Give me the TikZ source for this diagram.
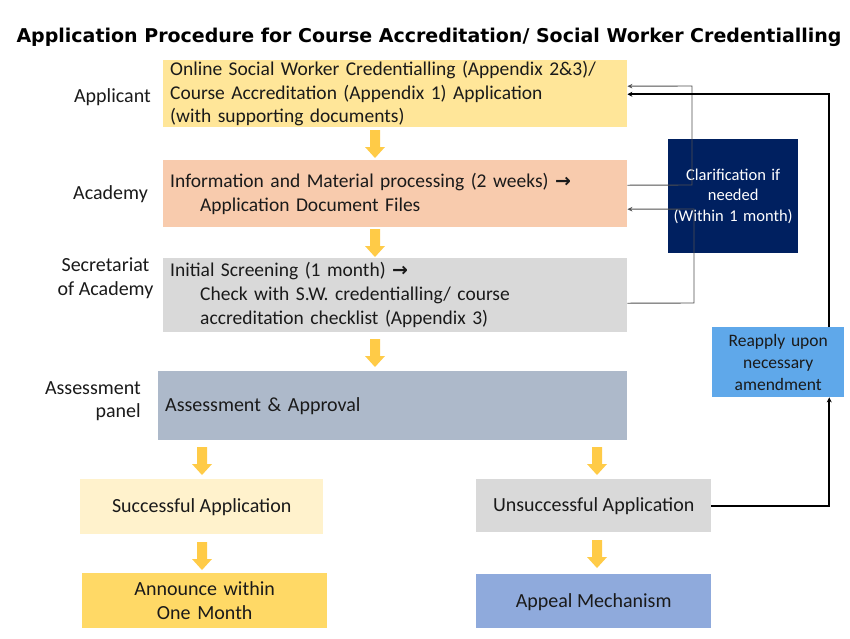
\documentclass[tikz,border=0pt]{standalone}
\usepackage{fontspec}
\setmainfont{Carlito}
\newfontfamily\titlefont{DejaVu Sans}
\newfontfamily\symfont{DejaVu Sans}
\usetikzlibrary{arrows.meta,calc}
\definecolor{cApp}{HTML}{FFE699}
\definecolor{cAcad}{HTML}{F8CBAD}
\definecolor{cSec}{HTML}{D9D9D9}
\definecolor{cAss}{HTML}{ADB9CA}
\definecolor{cSucc}{HTML}{FFF2CC}
\definecolor{cAnn}{HTML}{FFD966}
\definecolor{cApl}{HTML}{8FAADC}
\definecolor{cClar}{HTML}{002060}
\definecolor{cRe}{HTML}{5FA8EA}
\definecolor{cArr}{HTML}{FFCB47}
\definecolor{cLine}{HTML}{505050}
\definecolor{cTxt}{HTML}{1A1A1A}
\newcommand\rarr{\raisebox{0.3pt}{\symfont\bfseries\fontsize{19}{19}\selectfont →}}
\tikzset{
  stagebox/.style={draw=none, inner xsep=7pt, inner ysep=0pt, align=left, text=cTxt,
    font=\fontsize{19.5}{23.8}\selectfont, anchor=north west},
  endbox/.style={draw=none, inner sep=0pt, align=center, text=cTxt,
    font=\fontsize{20}{24}\selectfont, anchor=north west},
  lane/.style={text=cTxt, font=\fontsize{20}{23.5}\selectfont, inner sep=0pt},
  thinconn/.style={draw=cLine, line width=0.9pt, -{Stealth[length=5pt,width=4.5pt]}},
  thickconn/.style={draw=black, line width=1.8pt, -{Stealth[length=5pt,width=5pt]}},
  yarrow/.style={fill=cArr, draw=none}
}
\newcommand\yarr[2]{\fill[yarrow] (#1-5,#2) -- (#1+5,#2) -- (#1+5,#2+17) -- (#1+10,#2+17) -- (#1,#2+28) -- (#1-10,#2+17) -- (#1-5,#2+17) -- cycle;}
\begin{document}
\begin{tikzpicture}[x=1pt,y=-1pt]
\useasboundingbox (0,0) rectangle (850,638);
% title
\node[font=\titlefont\bfseries\fontsize{19}{22}\selectfont, inner sep=0pt, anchor=center] (title) at (429,37)
  {Application Procedure for Course Accreditation/ Social Worker Credentialling};
% stage boxes
\node[stagebox, fill=cApp, minimum width=464pt, minimum height=67pt, text width=450pt] (app) at (163,60)
  {Online Social Worker Credentialling (Appendix 2\&3)/\\Course Accreditation (Appendix 1) Application\\(with supporting documents)};
\node[stagebox, fill=cAcad, minimum width=464pt, minimum height=67pt, text width=450pt] (acad) at (163,160)
  {Information and Material processing (2 weeks) \rarr\\\hspace*{30pt}Application Document Files};
\node[stagebox, fill=cSec, minimum width=464pt, minimum height=74pt, text width=450pt] (sec) at (163,258)
  {Initial Screening (1 month) \rarr\\\hspace*{30pt}Check with S.W. credentialling/ course\\\hspace*{30pt}accreditation checklist (Appendix 3)};
\node[stagebox, fill=cAss, minimum width=469pt, minimum height=69pt, text width=455pt,
  font=\fontsize{20}{24}\selectfont, text depth=2pt] (ass) at (158,371)
  {Assessment \& Approval};
% lane labels
\node[lane, anchor=east] (lApp) at (151,97) {Applicant};
\node[lane, anchor=east] (lAcad) at (148,194) {Academy};
\node[lane, align=center] (lSec) at (105.5,278) {Secretariat\\of Academy};
\node[lane, align=right, anchor=east] (lAss) at (141,401) {Assessment\\panel};
% outcome boxes
\node[endbox, fill=cSucc, minimum width=243pt, minimum height=55pt, text depth=2pt] (succ) at (80,479) {Successful Application};
\node[endbox, fill=cSec, minimum width=235pt, minimum height=53pt, text depth=2pt] (unsucc) at (476,479) {Unsuccessful Application};
\node[endbox, fill=cAnn, minimum width=245pt, minimum height=55pt, text width=245pt] (ann) at (82,573) {Announce within\\One Month};
\node[endbox, fill=cApl, minimum width=235pt, minimum height=54pt, text depth=2pt] (appeal) at (476,574) {Appeal Mechanism};
% side boxes
\node[endbox, fill=cClar, text=white, minimum width=130pt, minimum height=114pt, text width=130pt,
  font=\fontsize{16.5}{20.5}\selectfont] (clar) at (668,139) {Clarification if\\needed\\(Within 1 month)};
\node[endbox, fill=cRe, minimum width=132pt, minimum height=70pt, text width=132pt,
  font=\fontsize{17.5}{22}\selectfont] (re) at (712,327) {Reapply upon\\necessary\\amendment};
% yellow block arrows
\yarr{375}{130}
\yarr{375}{229}
\yarr{375}{339}
\yarr{202}{447}
\yarr{597}{447}
\yarr{202}{542}
\yarr{597}{540}
% thin connectors
\draw[thinconn] ([yshift=8.5]acad.east) -- (692,185) -- (692,86) -- ([yshift=7.5]app.east);
\draw[thinconn] ([yshift=-8]sec.east) -- (694,303) -- (694,209) -- ([yshift=-15.5]acad.east);
% thick connectors
\draw[thickconn] (unsucc.east) -| ([xshift=51]re.south);
\draw[thickconn] ([xshift=51]re.north) |- ([yshift=-0.5]app.east);
\end{tikzpicture}
\end{document}
